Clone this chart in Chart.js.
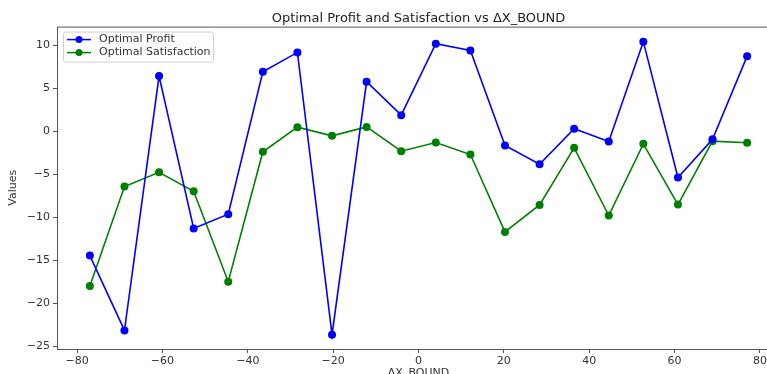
<!DOCTYPE html>
<html lang="en">
  <head>
    <meta charset="UTF-8" />
    <title>Optimal Profit and Satisfaction vs ΔX_BOUND</title>
    <script src="https://cdn.jsdelivr.net/npm/chart.js"></script>
    <style>
      html, body { margin: 0; padding: 0; background: #fff; overflow: hidden; }
      #wrap { width: 784px; height: 392px; }
    </style>
  </head>
  <body>
    <div id="wrap"><canvas id="myChart" width="784" height="392"></canvas></div>

    <script>
      // ΔX_BOUND values
      var xBound = [-77, -68.89, -60.79, -52.68, -44.58, -36.47, -28.37, -20.26, -12.16, -4.05,
                    4.05, 12.16, 20.26, 28.37, 36.47, 44.58, 52.68, 60.79, 68.89, 77];
      var optimalProfit = [-14.45, -23.14, 6.4, -11.3, -9.65, 6.9, 9.15, -23.64, 5.74, 1.86,
                           10.16, 9.38, -1.66, -3.84, 0.28, -1.2, 10.4, -5.38, -0.93, 8.72];
      var optimalSatisfaction = [-17.98, -6.43, -4.77, -6.98, -17.48, -2.4, 0.47, -0.54, 0.5, -2.32,
                                 -1.31, -2.71, -11.7, -8.56, -1.93, -9.8, -1.47, -8.52, -1.16, -1.35];
      var xTicks = [-80, -60, -40, -20, 0, 20, 40, 60, 80];
      var yTicks = [-25, -20, -15, -10, -5, 0, 5, 10];

      var FONT = "'DejaVu Sans', sans-serif";
      var AXIS_COLOR = "#555";
      var TEXT_COLOR = "#333";

      function toPoints(xs, ys) {
        var pts = [];
        for (var i = 0; i < xs.length; i++) {
          pts.push({ x: xs[i], y: ys[i] });
        }
        return pts;
      }

      var seriesStyle = [
        { label: "Optimal Profit", color: "#0000ff", data: optimalProfit },
        { label: "Optimal Satisfaction", color: "#008000", data: optimalSatisfaction },
      ];

      // frame around the plot area plus the legend box in the upper left
      var framePlugin = {
        id: "frame",
        afterDraw: function (chart) {
          var ctx = chart.ctx;
          var a = chart.chartArea;
          ctx.save();
          ctx.strokeStyle = AXIS_COLOR;
          ctx.lineWidth = 1;
          ctx.strokeRect(a.left + 0.5, a.top + 0.5, a.right - a.left, a.bottom - a.top);

          var bx = a.left + 6, by = a.top + 5, bw = 150, bh = 30;
          ctx.fillStyle = "rgba(255,255,255,0.85)";
          ctx.strokeStyle = "#d0d0d0";
          ctx.beginPath();
          ctx.roundRect(bx + 0.5, by + 0.5, bw, bh, 2);
          ctx.fill();
          ctx.stroke();

          ctx.font = "11px " + FONT;
          ctx.textBaseline = "middle";
          seriesStyle.forEach(function (s, i) {
            var ly = by + 8 + i * 13;
            ctx.strokeStyle = s.color;
            ctx.lineWidth = 1.5;
            ctx.beginPath();
            ctx.moveTo(bx + 4, ly);
            ctx.lineTo(bx + 28, ly);
            ctx.stroke();
            ctx.fillStyle = s.color;
            ctx.beginPath();
            ctx.arc(bx + 16, ly, 3.5, 0, Math.PI * 2);
            ctx.fill();
            ctx.fillStyle = TEXT_COLOR;
            ctx.fillText(s.label, bx + 36, ly);
          });
          ctx.restore();
        },
      };

      var ctx = document.getElementById("myChart").getContext("2d");

      new Chart(ctx, {
        type: "line",
        data: {
          datasets: seriesStyle.map(function (s) {
            return {
              label: s.label,
              data: toPoints(xBound, s.data),
              borderColor: s.color,
              backgroundColor: s.color,
              borderWidth: 1.6,
              pointRadius: 4,
              pointHoverRadius: 4,
              pointBorderWidth: 0,
              tension: 0,
              fill: false,
            };
          }),
        },
        options: {
          responsive: false,
          animation: false,
          events: [],
          layout: { padding: { left: 0, right: 3, top: 0, bottom: 0 } },
          plugins: {
            legend: { display: false },
            tooltip: { enabled: false },
            title: {
              display: true,
              text: "Optimal Profit and Satisfaction vs ΔX_BOUND",
              fullSize: false,
              color: "#222",
              font: { family: FONT, size: 13, weight: "normal", lineHeight: 1.2 },
              padding: { top: 11, bottom: 0 },
            },
          },
          scales: {
            x: {
              type: "linear",
              min: -84.7,
              max: 84.7,
              afterBuildTicks: function (scale) {
                scale.ticks = xTicks.map(function (v) { return { value: v }; });
              },
              afterFit: function (scale) { scale.height = 43; },
              grid: { display: true, drawOnChartArea: false, drawTicks: true, tickLength: 4, color: AXIS_COLOR },
              border: { display: false },
              ticks: {
                color: TEXT_COLOR,
                font: { family: FONT, size: 11 },
                padding: 2,
                maxRotation: 0,
                callback: function (v) { return String(v).replace("-", "\u2212"); },
              },
              title: {
                display: true,
                text: "ΔX_BOUND",
                color: TEXT_COLOR,
                font: { family: FONT, size: 11 },
                padding: { top: 0, bottom: 12 },
              },
            },
            y: {
              min: -25.3,
              max: 12.15,
              afterBuildTicks: function (scale) {
                scale.ticks = yTicks.map(function (v) { return { value: v }; });
              },
              afterFit: function (scale) { scale.width = 57; },
              grid: { display: true, drawOnChartArea: false, drawTicks: true, tickLength: 4, color: AXIS_COLOR },
              border: { display: false },
              ticks: {
                color: TEXT_COLOR,
                font: { family: FONT, size: 11 },
                padding: 3,
                callback: function (v) { return String(v).replace("-", "\u2212"); },
              },
              title: {
                display: true,
                text: "Values",
                color: TEXT_COLOR,
                font: { family: FONT, size: 11 },
                padding: { top: 7, bottom: 0 },
              },
            },
          },
        },
        plugins: [framePlugin],
      });
    </script>
  </body>
</html>
